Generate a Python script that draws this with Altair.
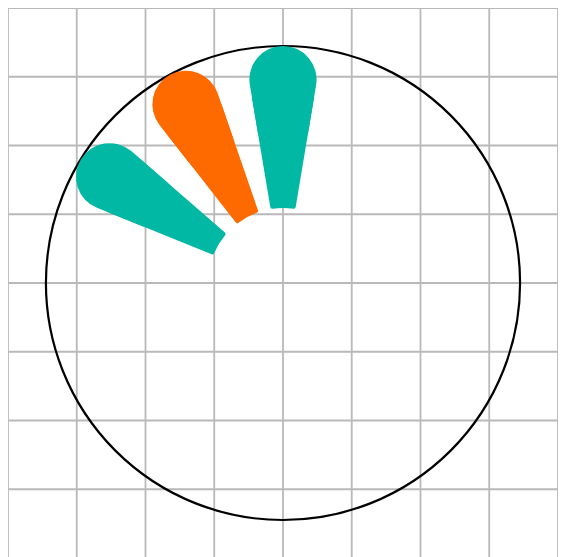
import math
import altair as alt
import pandas as pd

# grid lines (cell boundaries)
grid_values = [0, 1, 2, 3, 4, 5, 6, 7, 8]

# petals: start/end angle in degrees, clockwise from 12 o'clock
petal_start = [292, 322, 350.5]
petal_end = [311, 341, 369.5]
petal_color = ["#00b8a3", "#ff6a00", "#00b8a3"]

grid_df = pd.DataFrame({"g": grid_values})
petal_df = pd.DataFrame({"start": petal_start, "end": petal_end, "c": petal_color})
circle_df = pd.DataFrame({"a": [0]})

xs = alt.Scale(domain=[0, 8], nice=False)
ys = alt.Scale(domain=[0, 8], nice=False)
grid_color = "#b9b9b9"

vgrid = alt.Chart(grid_df).mark_rule(color=grid_color, strokeWidth=1.8).encode(
    x=alt.X("g:Q", scale=xs, axis=None)
)
hgrid = alt.Chart(grid_df).mark_rule(color=grid_color, strokeWidth=1.8).encode(
    y=alt.Y("g:Q", scale=ys, axis=None)
)

circle = alt.Chart(circle_df).mark_arc(
    filled=False, stroke="black", strokeWidth=2.2, radius=237,
    theta=0, theta2=2 * math.pi
).encode(opacity=alt.value(1))

theta_scale = alt.Scale(domain=[0, 360], range=[0, 2 * math.pi], zero=False)

petal_base = alt.Chart(petal_df).mark_arc(radius=190, radius2=75, cornerRadius=2).encode(
    theta=alt.Theta("start:Q", scale=theta_scale),
    theta2="end:Q",
    color=alt.Color("c:N", scale=None),
)
petal_tip = alt.Chart(petal_df).mark_arc(radius=237, radius2=130, cornerRadius=60).encode(
    theta=alt.Theta("start:Q", scale=theta_scale),
    theta2="end:Q",
    color=alt.Color("c:N", scale=None),
)

chart = alt.layer(vgrid, hgrid, circle, petal_base, petal_tip).properties(
    width=550, height=550, padding=0,
    autosize=alt.AutoSizeParams(type="none"),
).configure_view(stroke="transparent")

chart.save("out.html", embed_options={"renderer": "svg", "actions": False})
